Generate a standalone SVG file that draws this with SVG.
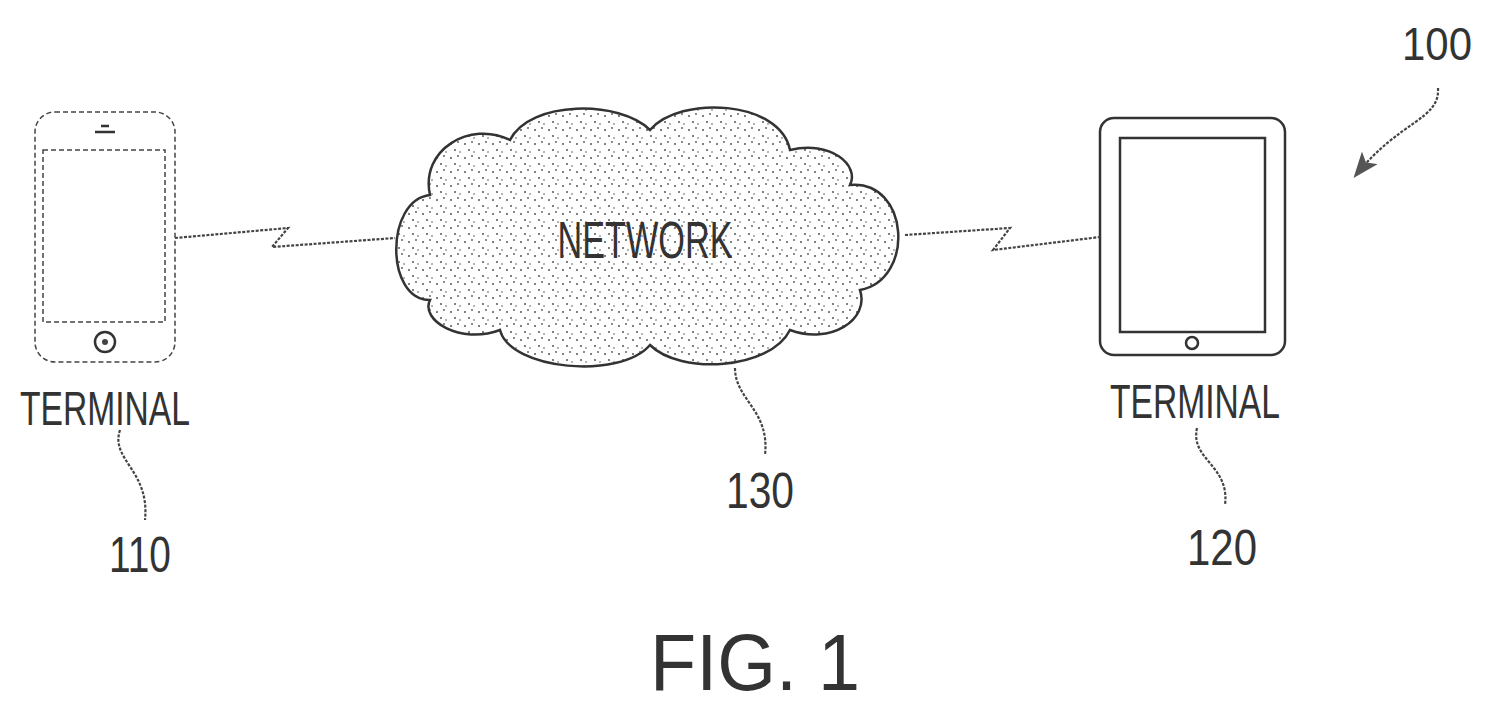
<svg xmlns="http://www.w3.org/2000/svg" width="1510" height="719" viewBox="0 0 1510 719">
<style>
.o{fill:none;stroke:#333;stroke-width:2.5}
.d{fill:none;stroke:#444;stroke-width:1.5;stroke-dasharray:5 3}
.t{font-family:"Liberation Sans",sans-serif;fill:#333;text-anchor:middle}
.w{fill:none;stroke:#444;stroke-width:2.2;stroke-dasharray:3 1.5}
</style>
<defs>
<pattern id="dots" width="14" height="14" patternUnits="userSpaceOnUse">
<rect width="14" height="14" fill="#fff"/>
<circle cx="3" cy="4" r="1" fill="#555"/><circle cx="10" cy="2" r="0.9" fill="#555"/><circle cx="7" cy="10" r="1" fill="#555"/><circle cx="12" cy="12" r="0.8" fill="#555"/>
</pattern>
<marker id="ah" markerWidth="26" markerHeight="20" refX="22" refY="10" orient="auto" markerUnits="userSpaceOnUse"><path d="M0,0 L26,10 L0,20 L6,10 Z" fill="#555"/></marker>
</defs>
<rect width="1510" height="719" fill="#fff"/>
<g id="terminal110">
<rect class="d" x="35" y="112" width="140" height="250" rx="20" stroke-width="2"/>
<rect class="d" x="43" y="150" width="122" height="172"/>
<circle class="o" cx="105" cy="342" r="10" stroke-width="1.8"/>
<circle cx="105" cy="342" r="3" fill="#444"/>
<path class="o" d="M95,132 h20 M101,126 h8" stroke-width="1.8"/>
<text class="t" x="105" y="425" font-size="48" textLength="170" lengthAdjust="spacingAndGlyphs">TERMINAL</text>
</g>
<g id="network130">
<path d="M430,300 C385,300 385,200 430,195 C420,150 470,120 510,140 C530,100 620,100 650,130 C680,95 780,100 790,150 C830,140 860,165 850,185 C910,180 915,280 860,290 C870,320 830,345 790,330 C770,370 680,375 650,345 C620,380 510,370 500,330 C460,345 420,320 430,300 Z" fill="url(#dots)" stroke="#333" stroke-width="2.5"/>
<text class="t" x="645" y="258" font-size="52" textLength="175" lengthAdjust="spacingAndGlyphs">NETWORK</text>
</g>
<g id="terminal120">
<rect class="o" x="1100" y="118" width="185" height="237" rx="14"/>
<rect class="o" x="1120" y="138" width="145" height="194" stroke-width="1.8"/>
<circle class="o" cx="1192" cy="343" r="6" stroke-width="1.5"/>
<text class="t" x="1195" y="418" font-size="48" textLength="170" lengthAdjust="spacingAndGlyphs">TERMINAL</text>
</g>
<g id="labels">
<text class="t" x="140" y="572" font-size="50" textLength="62" lengthAdjust="spacingAndGlyphs">110</text>
<text class="t" x="760" y="508" font-size="50" textLength="68" lengthAdjust="spacingAndGlyphs">130</text>
<text class="t" x="1222" y="565" font-size="50" textLength="70" lengthAdjust="spacingAndGlyphs">120</text>
<text class="t" x="1437" y="60" font-size="46" textLength="70" lengthAdjust="spacingAndGlyphs">100</text>
<text class="t" x="755" y="690" font-size="80" textLength="210" lengthAdjust="spacingAndGlyphs">FIG. 1</text>
</g>
<g id="connectors">
<path class="w" d="M175,238 L288,228 L272,247 L395,238"/>
<path class="w" d="M905,235 L1010,228 L993,250 L1100,237"/>
<path class="w" d="M120,430 C110,460 150,470 145,520"/>
<path class="w" d="M735,368 C735,400 770,410 765,455"/>
<path class="w" d="M1197,428 C1190,460 1230,465 1225,505"/>
<path class="w" d="M1438,88 C1440,120 1400,120 1356,175" stroke-width="3" marker-end="url(#ah)"/>
</g>
</svg>
